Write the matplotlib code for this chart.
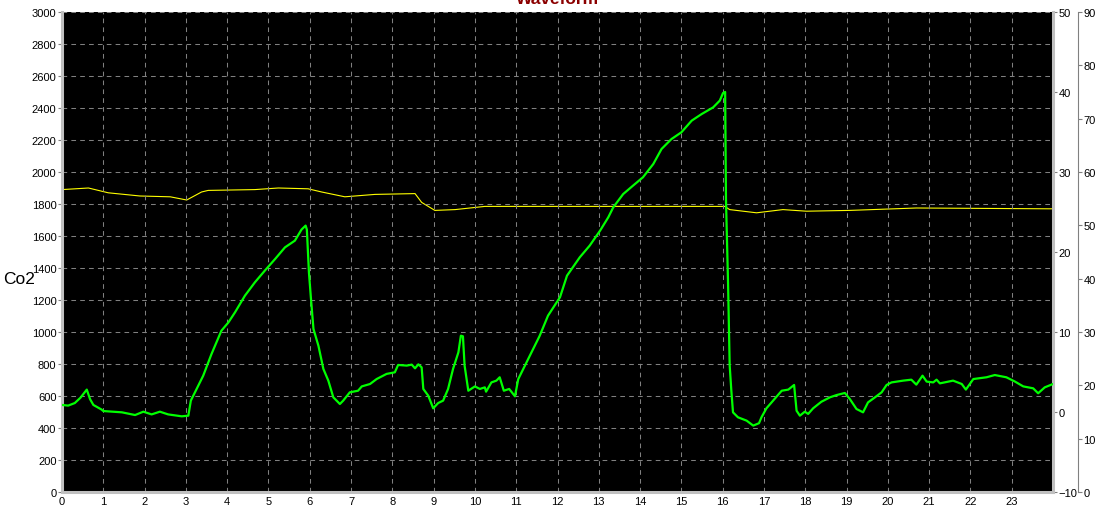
import matplotlib
matplotlib.use("Agg")
import matplotlib.pyplot as plt
from matplotlib import font_manager

# ---------------- data ----------------
co2_hours = [0.00, 0.15, 0.31, 0.45, 0.60, 0.68, 0.76, 0.96, 1.00, 1.45, 1.77, 1.97, 2.17, 2.37,
             2.57, 2.90, 3.06, 3.12, 3.26, 3.42, 3.62, 3.86, 4.03, 4.19, 4.43, 4.67, 4.91, 5.16,
             5.40, 5.64, 5.80, 5.90, 5.93, 5.98, 6.03, 6.09, 6.21, 6.33, 6.45, 6.57, 6.73, 6.81,
             6.97, 7.17, 7.26, 7.46, 7.62, 7.86, 8.06, 8.14, 8.35, 8.47, 8.55, 8.63, 8.71, 8.75,
             8.87, 8.99, 9.11, 9.23, 9.35, 9.47, 9.60, 9.66, 9.71, 9.75, 9.84, 10.00, 10.12, 10.24,
             10.27, 10.40, 10.52, 10.60, 10.70, 10.83, 10.97, 11.05, 11.33, 11.57, 11.77, 12.06,
             12.23, 12.54, 12.78, 13.03, 13.23, 13.35, 13.59, 13.83, 14.07, 14.32, 14.52, 14.76,
             15.00, 15.25, 15.49, 15.77, 15.93, 16.01, 16.06, 16.08, 16.13, 16.17, 16.21, 16.25,
             16.37, 16.58, 16.74, 16.88, 16.94, 17.06, 17.22, 17.43, 17.59, 17.73, 17.79, 17.87,
             17.99, 18.07, 18.19, 18.39, 18.60, 18.76, 18.96, 19.08, 19.24, 19.40, 19.52, 19.69,
             19.85, 19.97, 20.09, 20.37, 20.57, 20.69, 20.84, 20.94, 21.10, 21.18, 21.26, 21.58,
             21.79, 21.89, 22.07, 22.39, 22.59, 22.87, 23.08, 23.28, 23.52, 23.64, 23.80, 24.00]
co2_values = [544, 540, 556, 590, 640, 580, 544, 515, 506, 498, 481, 502, 485, 502,
              485, 473, 477, 571, 644, 727, 862, 1008, 1060, 1123, 1227, 1310, 1383, 1456,
              1529, 1571, 1640, 1665, 1640, 1373, 1206, 1019, 914, 769, 696, 592, 550, 571,
              623, 633, 660, 675, 706, 738, 748, 794, 790, 796, 773, 798, 779, 644,
              602, 523, 556, 571, 644, 769, 873, 977, 973, 790, 633, 660, 644, 654,
              627, 685, 696, 717, 633, 644, 598, 706, 852, 977, 1102, 1217,
              1352, 1467, 1540, 1633, 1717, 1779, 1862, 1915, 1967, 2050, 2144, 2206,
              2248, 2321, 2362, 2404, 2446, 2494, 2500, 1831, 1310, 790, 633, 498,
              467, 446, 415, 430, 467, 523, 571, 633, 640, 669, 508, 477,
              502, 488, 523, 564, 592, 606, 619, 581, 519, 498, 560, 592,
              623, 669, 685, 696, 702, 671, 727, 690, 685, 702, 679, 696,
              675, 640, 706, 717, 731, 717, 690, 660, 648, 617, 654, 675]

temp_hours = [0.00, 0.64, 1.12, 1.89, 2.62, 3.02, 3.38, 3.54, 4.67, 5.24, 5.96, 6.29, 6.85,
              7.58, 8.55, 8.71, 9.03, 9.52, 10.24, 11.94, 16.05, 16.17, 16.82, 17.46, 18.03,
              19.08, 20.69, 23.90, 24.00]
temp_values = [27.8, 28.0, 27.4, 27.0, 26.9, 26.5, 27.5, 27.7, 27.8, 28.0, 27.9, 27.5, 26.9,
               27.2, 27.3, 26.2, 25.2, 25.3, 25.7, 25.7, 25.7, 25.3, 24.9, 25.3, 25.1,
               25.2, 25.5, 25.4, 25.4]

x_ticks = list(range(0, 24))
co2_ticks = list(range(0, 3001, 200))
temp_ticks = list(range(-10, 51, 10))
hum_ticks = list(range(0, 91, 10))

title_text = "Waveform"
left_label = "Co2"

# ---------------- fonts ----------------
names = {f.name for f in font_manager.fontManager.ttflist}
if "Liberation Sans Narrow" in names:
    tick_family = ["Liberation Sans Narrow", "DejaVu Sans"]
    tick_size = 9
else:
    tick_family = ["Liberation Sans", "DejaVu Sans"]
    tick_size = 8
plt.rcParams["font.family"] = ["Liberation Sans", "DejaVu Sans"]

W, H = 1106, 510
fig = plt.figure(figsize=(W / 100, H / 100), dpi=100)
fig.patch.set_facecolor("white")

rect = [62 / W, 17 / H, 991 / W, 480 / H]
ax = fig.add_axes(rect)
ax2 = ax.twinx()
ax3 = ax.twinx()

# background on ax2 (drawn first), co2 axes on top
ax2.set_zorder(0)
ax3.set_zorder(1)
ax.set_zorder(2)
ax2.patch.set_visible(True)
ax2.set_facecolor("black")
ax.patch.set_visible(False)
ax3.patch.set_visible(False)

grey_border = "#c0c0c0"
grid_col = "#808080"

# CO2 axes
ax.set_xlim(0, 24)
ax.set_ylim(0, 3000)
ax.set_xticks(x_ticks)
ax.set_yticks(co2_ticks)
ax.grid(True, color=grid_col, linestyle=(0, (4.5, 4)), linewidth=0.75)
ax.set_axisbelow(True)
ax.plot(co2_hours, co2_values, color="#00ff00", linewidth=1.6, zorder=3)
for s in ["left", "bottom"]:
    ax.spines[s].set_color(grey_border)
    ax.spines[s].set_linewidth(2.2)
ax.spines["top"].set_visible(False)
ax.spines["right"].set_visible(False)
ax.tick_params(axis="y", direction="out", length=3, width=0.8, color=grid_col, pad=1,
               labelsize=tick_size)
ax.tick_params(axis="x", length=0, pad=3, labelsize=tick_size)
for lab in ax.get_xticklabels() + ax.get_yticklabels():
    lab.set_family(tick_family)

# temperature axes
ax2.set_ylim(-10, 50)
ax2.set_yticks(temp_ticks)
ax2.plot(temp_hours, temp_values, color="#ffff00", linewidth=0.8)
for s in ["left", "bottom", "top"]:
    ax2.spines[s].set_visible(False)
ax2.spines["right"].set_color(grey_border)
ax2.spines["right"].set_linewidth(2.2)
ax2.tick_params(axis="y", direction="out", length=3, width=0.8, color=grid_col, pad=1,
                labelsize=tick_size)
for lab in ax2.get_yticklabels():
    lab.set_family(tick_family)

# humidity axis (no data)
ax3.set_ylim(0, 90)
ax3.set_yticks(hum_ticks)
for s in ["left", "bottom", "top"]:
    ax3.spines[s].set_visible(False)
ax3.spines["right"].set_position(("outward", 18))
ax3.spines["right"].set_color(grid_col)
ax3.spines["right"].set_linewidth(0.8)
ax3.tick_params(axis="y", direction="out", length=3, width=0.8, color=grid_col, pad=1,
                labelsize=tick_size)
for lab in ax3.get_yticklabels():
    lab.set_family(tick_family)

# texts (title is partly cut off at the top edge, as in the reference)
fig.text(558 / W, 1 - 3.5 / H, title_text, ha="center", va="baseline", color="#8b0000",
         fontsize=12.5, fontweight="bold")
fig.text(3 / W, 1 - 280 / H, left_label, ha="left", va="center", color="black", fontsize=12.5)

fig.savefig("out.png", dpi=100, facecolor="white")
